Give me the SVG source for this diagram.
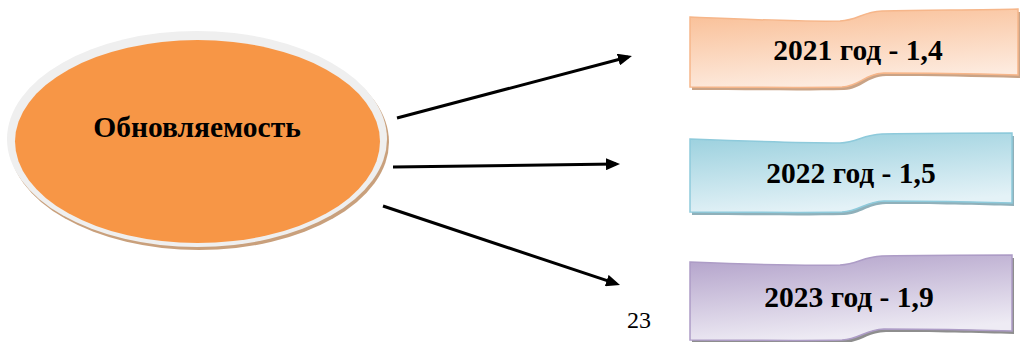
<svg xmlns="http://www.w3.org/2000/svg" width="1020" height="342" viewBox="0 0 1020 342">
  <style>
    .lbl { font-family: 'Liberation Serif', serif; font-weight: bold; font-size: 29.5px; fill: #000; text-anchor: middle; }
    .conn { stroke: #000; stroke-width: 3; fill: none; }
    .pg { font-family: 'Liberation Serif', serif; font-size: 24px; fill: #000; text-anchor: middle; }
  </style>
  <defs>
    <marker id="ah" markerUnits="userSpaceOnUse" viewBox="0 0 14 12" refX="10" refY="6" markerWidth="14" markerHeight="12" orient="auto">
      <path d="M0,0 L14,6 L0,12 Z" fill="#000"/>
    </marker>
    <linearGradient id="gOr" x1="0" y1="0" x2="0.3" y2="1">
      <stop offset="0" stop-color="#f9bd93"/>
      <stop offset="1" stop-color="#fdebdf"/>
    </linearGradient>
    <linearGradient id="gBl" x1="0" y1="0" x2="0.3" y2="1">
      <stop offset="0" stop-color="#98cfdd"/>
      <stop offset="1" stop-color="#e4f2f7"/>
    </linearGradient>
    <linearGradient id="gVi" x1="0" y1="0" x2="0.3" y2="1">
      <stop offset="0" stop-color="#b1a0c9"/>
      <stop offset="1" stop-color="#eeebf4"/>
    </linearGradient>
  </defs>

  <g id="node-main">
    <ellipse cx="199" cy="142" rx="190" ry="108" fill="#c9a07c"/>
    <ellipse cx="197" cy="139" rx="190" ry="108" fill="#efefef"/>
    <ellipse cx="197.5" cy="141.5" rx="182.5" ry="101.5" fill="#f79646"/>
    <text class="lbl" x="197" y="137" font-family="Liberation Serif, serif">Обновляемость</text>
  </g>

  <g id="connectors">
    <line class="conn" x1="397" y1="118" x2="628.1" y2="57" marker-end="url(#ah)"/>
    <line class="conn" x1="393" y1="167" x2="616" y2="164.05" marker-end="url(#ah)"/>
    <line class="conn" x1="383" y1="206" x2="616.2" y2="283.7" marker-end="url(#ah)"/>
  </g>

  <g id="node-2021">
    <path transform="translate(2,3)" fill="#c9a386" d="M690,17 C740,19 800,22 840,21 C858,20 862,12 882,11 C930,10 980,10 1018,9 L1018,75 C980,74 930,73 884,73 C864,74 860,86 842,87 C800,88 740,87 690,87 Z"/>
    <path fill="url(#gOr)" stroke="#f6b68a" stroke-width="1.5" d="M690,17 C740,19 800,22 840,21 C858,20 862,12 882,11 C930,10 980,10 1018,9 L1018,75 C980,74 930,73 884,73 C864,74 860,86 842,87 C800,88 740,87 690,87 Z"/>
    <text class="lbl" x="858" y="60">2021 год - 1,4</text>
  </g>

  <g id="node-2022">
    <path transform="translate(2,3)" fill="#8fb0ba" d="M690,139 C740,141 800,143 840,143 C858,142 862,135 882,134 C930,133 980,133 1012,133 L1012,203 C980,202 930,201 884,201 C864,202 860,211 842,212 C800,213 740,212 690,212 Z"/>
    <path fill="url(#gBl)" stroke="#8ecadb" stroke-width="1.5" d="M690,139 C740,141 800,143 840,143 C858,142 862,135 882,134 C930,133 980,133 1012,133 L1012,203 C980,202 930,201 884,201 C864,202 860,211 842,212 C800,213 740,212 690,212 Z"/>
    <text class="lbl" x="851" y="183">2022 год - 1,5</text>
  </g>

  <g id="node-2023">
    <path transform="translate(2,3)" fill="#8e8e8e" d="M690,262 C740,264 800,266 840,265 C858,264 862,257 882,256 C930,255 980,255 1012,255 L1012,331 C980,330 930,329 884,329 C864,330 860,339 842,340 C800,341 740,340 690,340 Z"/>
    <path fill="url(#gVi)" stroke="#ad9cc6" stroke-width="1.5" d="M690,262 C740,264 800,266 840,265 C858,264 862,257 882,256 C930,255 980,255 1012,255 L1012,331 C980,330 930,329 884,329 C864,330 860,339 842,340 C800,341 740,340 690,340 Z"/>
    <text class="lbl" x="849" y="307">2023 год - 1,9</text>
  </g>

  <text class="pg" x="639" y="328">23</text>
</svg>
